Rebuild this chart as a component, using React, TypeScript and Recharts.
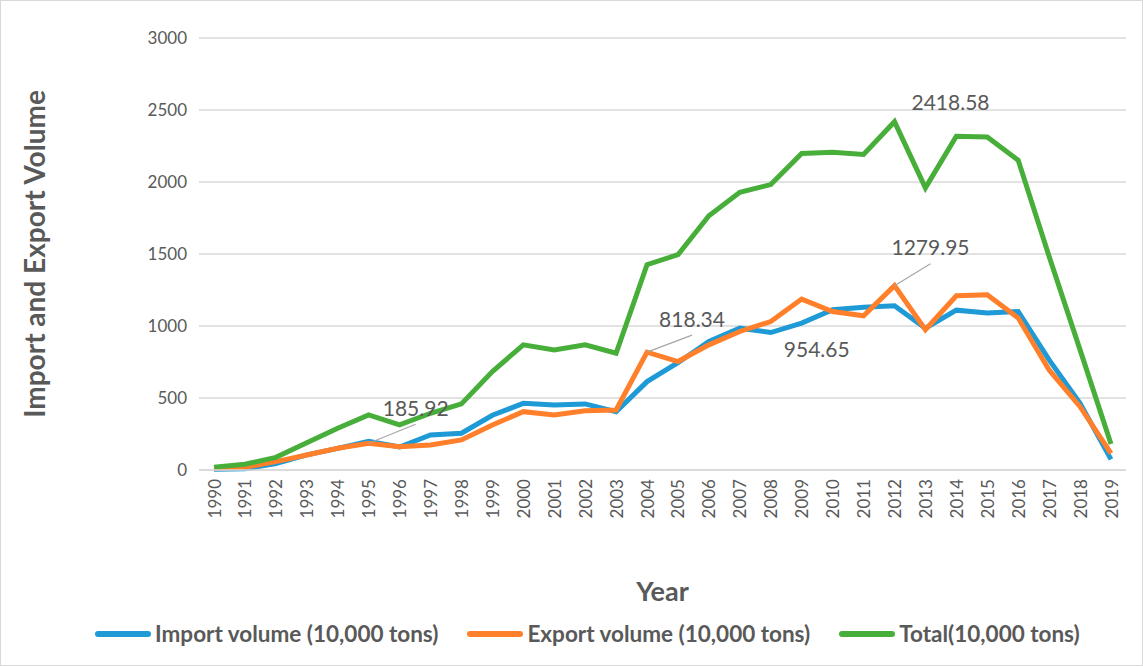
import { LineChart, Line, XAxis, YAxis, CartesianGrid, LabelList, Label } from "recharts";

const years = [
  "1990", "1991", "1992", "1993", "1994", "1995", "1996", "1997", "1998", "1999",
  "2000", "2001", "2002", "2003", "2004", "2005", "2006", "2007", "2008", "2009",
  "2010", "2011", "2012", "2013", "2014", "2015", "2016", "2017", "2018", "2019",
];

const importVolume = [
  5, 8, 45, 105, 150, 200, 160, 243, 255, 380,
  463, 452, 459, 405, 614, 745, 892, 985, 954.65, 1020,
  1113, 1131, 1140, 985, 1110, 1090, 1100, 765, 463, 74,
];

const exportVolume = [
  12, 19, 58, 104, 151, 185.92, 162, 174, 209, 313,
  405, 382, 412, 417, 818.34, 753, 869, 962, 1031, 1187,
  1101, 1071, 1279.95, 974, 1210, 1217, 1055, 695, 440, 116,
];

const totalVolume = [
  20, 40, 88, 190, 290, 382, 313, 394, 459, 684,
  869, 834, 869, 811, 1426, 1495, 1766, 1929, 1982, 2198,
  2207, 2191, 2418.58, 1959, 2318, 2313, 2151, 1483, 834, 181,
];

const yTicks = [0, 500, 1000, 1500, 2000, 2500, 3000];

const data = years.map((year, i) => ({
  year,
  importVolume: importVolume[i],
  exportVolume: exportVolume[i],
  total: totalVolume[i],
}));

const BLUE = "#1E9AD6";
const ORANGE = "#FF7F2A";
const GREEN = "#48AE3A";
const TEXT = "#595959";
const FONT = "Lato, 'Open Sans', sans-serif";

// where the data labels sit relative to their point (px)
const importLabels: Record<number, { dx: number; dy: number; leader?: boolean }> = {
  18: { dx: 46, dy: 16 },
};
const exportLabels: Record<number, { dx: number; dy: number; leader?: boolean }> = {
  5: { dx: 47, dy: -36, leader: true },
  14: { dx: 45, dy: -34, leader: true },
  22: { dx: 36, dy: -39, leader: true },
};
const totalLabels: Record<number, { dx: number; dy: number; leader?: boolean }> = {
  22: { dx: 56, dy: -20 },
};

const makeLabel =
  (spots: Record<number, { dx: number; dy: number; leader?: boolean }>) =>
  (props: any) => {
    const { x, y, value, index } = props;
    const spot = spots[index];
    if (!spot) return null;
    return (
      <g>
        {spot.leader && (
          <line
            x1={x}
            y1={y}
            x2={x + spot.dx}
            y2={y + spot.dy + 17}
            stroke="#A6A6A6"
            strokeWidth={1.2}
          />
        )}
        <text
          x={x + spot.dx}
          y={y + spot.dy}
          textAnchor="middle"
          dominantBaseline="central"
          fill={TEXT}
          fontSize={21}
          fontFamily={FONT}
        >
          {Number(value).toFixed(2)}
        </text>
      </g>
    );
  };

const YearTick = ({ x, y, payload }: any) => (
  <text
    x={x}
    y={y}
    transform={`rotate(-90 ${x} ${y})`}
    textAnchor="end"
    dominantBaseline="central"
    fill={TEXT}
    fontSize={17}
    fontFamily={FONT}
  >
    {payload.value}
  </text>
);

const legendItems = [
  { name: "Import volume (10,000 tons)", color: BLUE },
  { name: "Export volume (10,000 tons)", color: ORANGE },
  { name: "Total(10,000 tons)", color: GREEN },
];

export default function App() {
  return (
    <div
      style={{
        position: "absolute",
        left: 0,
        top: 0,
        width: 1143,
        height: 666,
        background: "#fff",
        boxSizing: "border-box",
        border: "1px solid #D9D9D9",
        fontFamily: FONT,
      }}
    >
      <LineChart
        width={1141}
        height={664}
        data={data}
        margin={{ top: 37, right: 16, left: 0, bottom: 0 }}
      >
        <CartesianGrid vertical={false} stroke="#D9D9D9" strokeWidth={1.5} />
        <XAxis
          dataKey="year"
          interval={0}
          padding={{ left: 15, right: 15 }}
          axisLine={{ stroke: "#D9D9D9", strokeWidth: 1.5 }}
          tickLine={false}
          tickSize={0}
          tickMargin={9}
          tick={<YearTick />}
          height={195}
        >
          <Label
            value="Year"
            position="insideTop"
            offset={112}
            fill={TEXT}
            fontSize={27}
            fontWeight="bold"
            fontFamily={FONT}
          />
        </XAxis>
        <YAxis
          domain={[0, 3000]}
          ticks={yTicks}
          width={198}
          axisLine={false}
          tickLine={false}
          tickSize={0}
          tickMargin={12}
          tick={{ fill: TEXT, fontSize: 17, fontFamily: FONT }}
        >
          <Label
            value="Import and Export Volume"
            angle={-90}
            position="insideLeft"
            offset={34}
            fill={TEXT}
            fontSize={28}
            fontWeight="bold"
            fontFamily={FONT}
            style={{ textAnchor: "middle" }}
          />
        </YAxis>
        <Line
          dataKey="importVolume"
          name="Import volume (10,000 tons)"
          stroke={BLUE}
          strokeWidth={5}
          dot={false}
          isAnimationActive={false}
        >
          <LabelList dataKey="importVolume" content={makeLabel(importLabels)} />
        </Line>
        <Line
          dataKey="exportVolume"
          name="Export volume (10,000 tons)"
          stroke={ORANGE}
          strokeWidth={5}
          dot={false}
          isAnimationActive={false}
        >
          <LabelList dataKey="exportVolume" content={makeLabel(exportLabels)} />
        </Line>
        <Line
          dataKey="total"
          name="Total(10,000 tons)"
          stroke={GREEN}
          strokeWidth={5}
          dot={false}
          isAnimationActive={false}
        >
          <LabelList dataKey="total" content={makeLabel(totalLabels)} />
        </Line>
      </LineChart>
      <div
        style={{
          position: "absolute",
          left: 94,
          top: 619,
          display: "flex",
          alignItems: "center",
          gap: 29,
          fontSize: 22.5,
          fontWeight: "bold",
          color: TEXT,
        }}
      >
        {legendItems.map((item) => (
          <div key={item.name} style={{ display: "flex", alignItems: "center", gap: 4 }}>
            <div style={{ width: 56, height: 6, borderRadius: 3, background: item.color }} />
            <span>{item.name}</span>
          </div>
        ))}
      </div>
    </div>
  );
}
